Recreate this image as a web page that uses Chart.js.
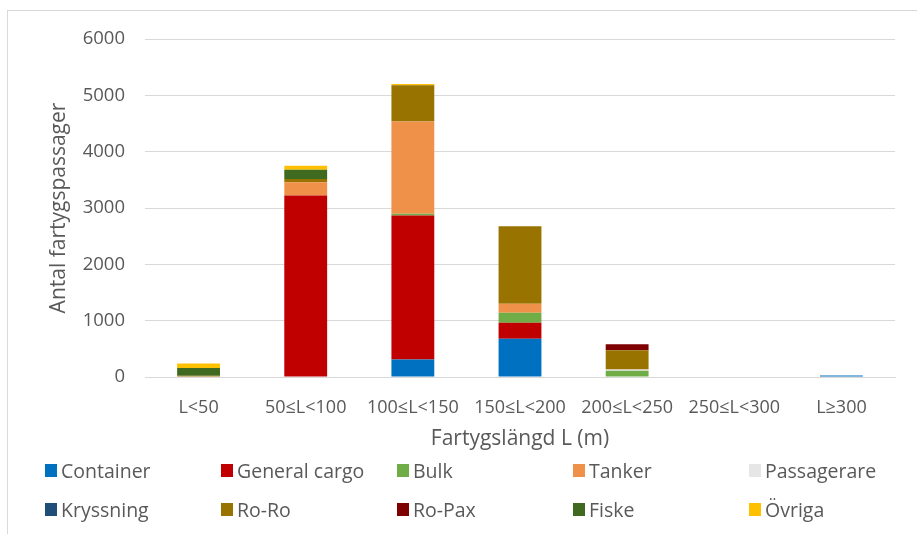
<!DOCTYPE html>
<html>
<head>
<meta charset="utf-8">
<script src="https://cdn.jsdelivr.net/npm/chart.js@4.4.1/dist/chart.umd.min.js"></script>
<style>
  html, body { margin: 0; padding: 0; background: #fff; }
  #wrap { position: relative; width: 917px; height: 534px; overflow: hidden; font-family: "Open Sans", sans-serif; }
  #frame { position: absolute; left: 7px; top: 10px; right: -5px; bottom: -5px; border-left: 1px solid #d9d9d9; border-top: 1px solid #d9d9d9; }
  #c { position: absolute; left: 0; top: 0; }
  #legend { position: absolute; left: 45px; top: 457px; width: 880px; }
  .item { position: absolute; display: flex; align-items: center; font-size: 19.5px; color: #595959; white-space: nowrap; }
  .box { width: 12px; height: 13px; margin-right: 4px; }
</style>
</head>
<body>
<div id="wrap">
  <div id="frame"></div>
  <canvas id="c" width="917" height="534"></canvas>
  <div id="legend"></div>
</div>
<script>
// Vessel length classes
const categories = ['L<50', '50≤L<100', '100≤L<150', '150≤L<200', '200≤L<250', '250≤L<300', 'L≥300'];

// Vessel passages per ship type and length class
const container    = [0,    0,  310,  680,   0, 0, 25];
const generalCargo = [0, 3220, 2555,  285,   0, 0,  0];
const bulk         = [0,    0,   35,  175, 110, 0,  0];
const tanker       = [0,  235, 1635,  160,   0, 0,  0];
const passagerare  = [0,    0,    0,    0,  25, 0,  0];
const kryssning    = [0,    0,    0,    0,   0, 0,  0];
const roRo         = [20,  60,  645, 1375, 340, 0,  0];
const roPax        = [0,    0,    0,    0, 105, 0,  0];
const fiske        = [140, 165,   0,    0,   0, 0,  0];
const ovriga       = [80,   70,  20,    0,   0, 0,  0];

const seriesNames = ['Container', 'General cargo', 'Bulk', 'Tanker', 'Passagerare',
                     'Kryssning', 'Ro-Ro', 'Ro-Pax', 'Fiske', 'Övriga'];
const seriesData = [container, generalCargo, bulk, tanker, passagerare,
                    kryssning, roRo, roPax, fiske, ovriga];
const seriesColors = ['#0070C0', '#C00000', '#70AD47', '#F0914A', '#E7E6E6',
                      '#1F4E79', '#997300', '#7F0000', '#3F6A20', '#FFC000'];

const yTicks = [0, 1000, 2000, 3000, 4000, 5000, 6000];

const datasets = seriesNames.map((name, i) => ({
  label: name,
  data: seriesData[i],
  backgroundColor: seriesColors[i],
  borderWidth: 0,
  barPercentage: 0.4,
  categoryPercentage: 1.0
}));

const tickColor = '#595959';
const gridColor = '#d9d9d9';

new Chart(document.getElementById('c'), {
  type: 'bar',
  data: { labels: categories, datasets },
  options: {
    responsive: false,
    animation: false,
    layout: { padding: { left: 40, right: 22, top: 39, bottom: 82 } },
    plugins: { legend: { display: false }, tooltip: { enabled: false } },
    scales: {
      x: {
        stacked: true,
        grid: { display: false, drawTicks: false },
        border: { color: gridColor, width: 1 },
        ticks: { color: tickColor, font: { family: 'Open Sans', size: 18 }, padding: 20, maxRotation: 0 },
        title: { display: true, text: 'Fartygslängd L (m)', color: tickColor,
                 font: { family: 'Open Sans', size: 21 }, padding: { top: 6, bottom: 0 } },
        afterFit: (s) => { s.height = 75; }
      },
      y: {
        stacked: true,
        min: 0, max: 6000,
        afterBuildTicks: (s) => { s.ticks = yTicks.map(v => ({ value: v })); },
        grid: { color: gridColor, drawTicks: false },
        border: { display: false },
        ticks: { color: tickColor, font: { family: 'Open Sans', size: 18.5 }, padding: 20,
                 callback: (v) => String(v) },
        title: { display: true, text: 'Antal fartygspassager', color: tickColor,
                 font: { family: 'Open Sans', size: 21 }, padding: { top: 6, bottom: 0 } },
        afterFit: (s) => { s.width = 105; }
      }
    }
  }
});

// Legend: two rows of five entries
const legend = document.getElementById('legend');
seriesNames.forEach((name, i) => {
  const el = document.createElement('div');
  el.className = 'item';
  el.style.left = (i % 5) * 176 + 'px';
  el.style.top = Math.floor(i / 5) * 39 + 'px';
  const box = document.createElement('span');
  box.className = 'box';
  box.style.background = seriesColors[i];
  const txt = document.createElement('span');
  txt.textContent = name;
  el.appendChild(box);
  el.appendChild(txt);
  legend.appendChild(el);
});
</script>
</body>
</html>
